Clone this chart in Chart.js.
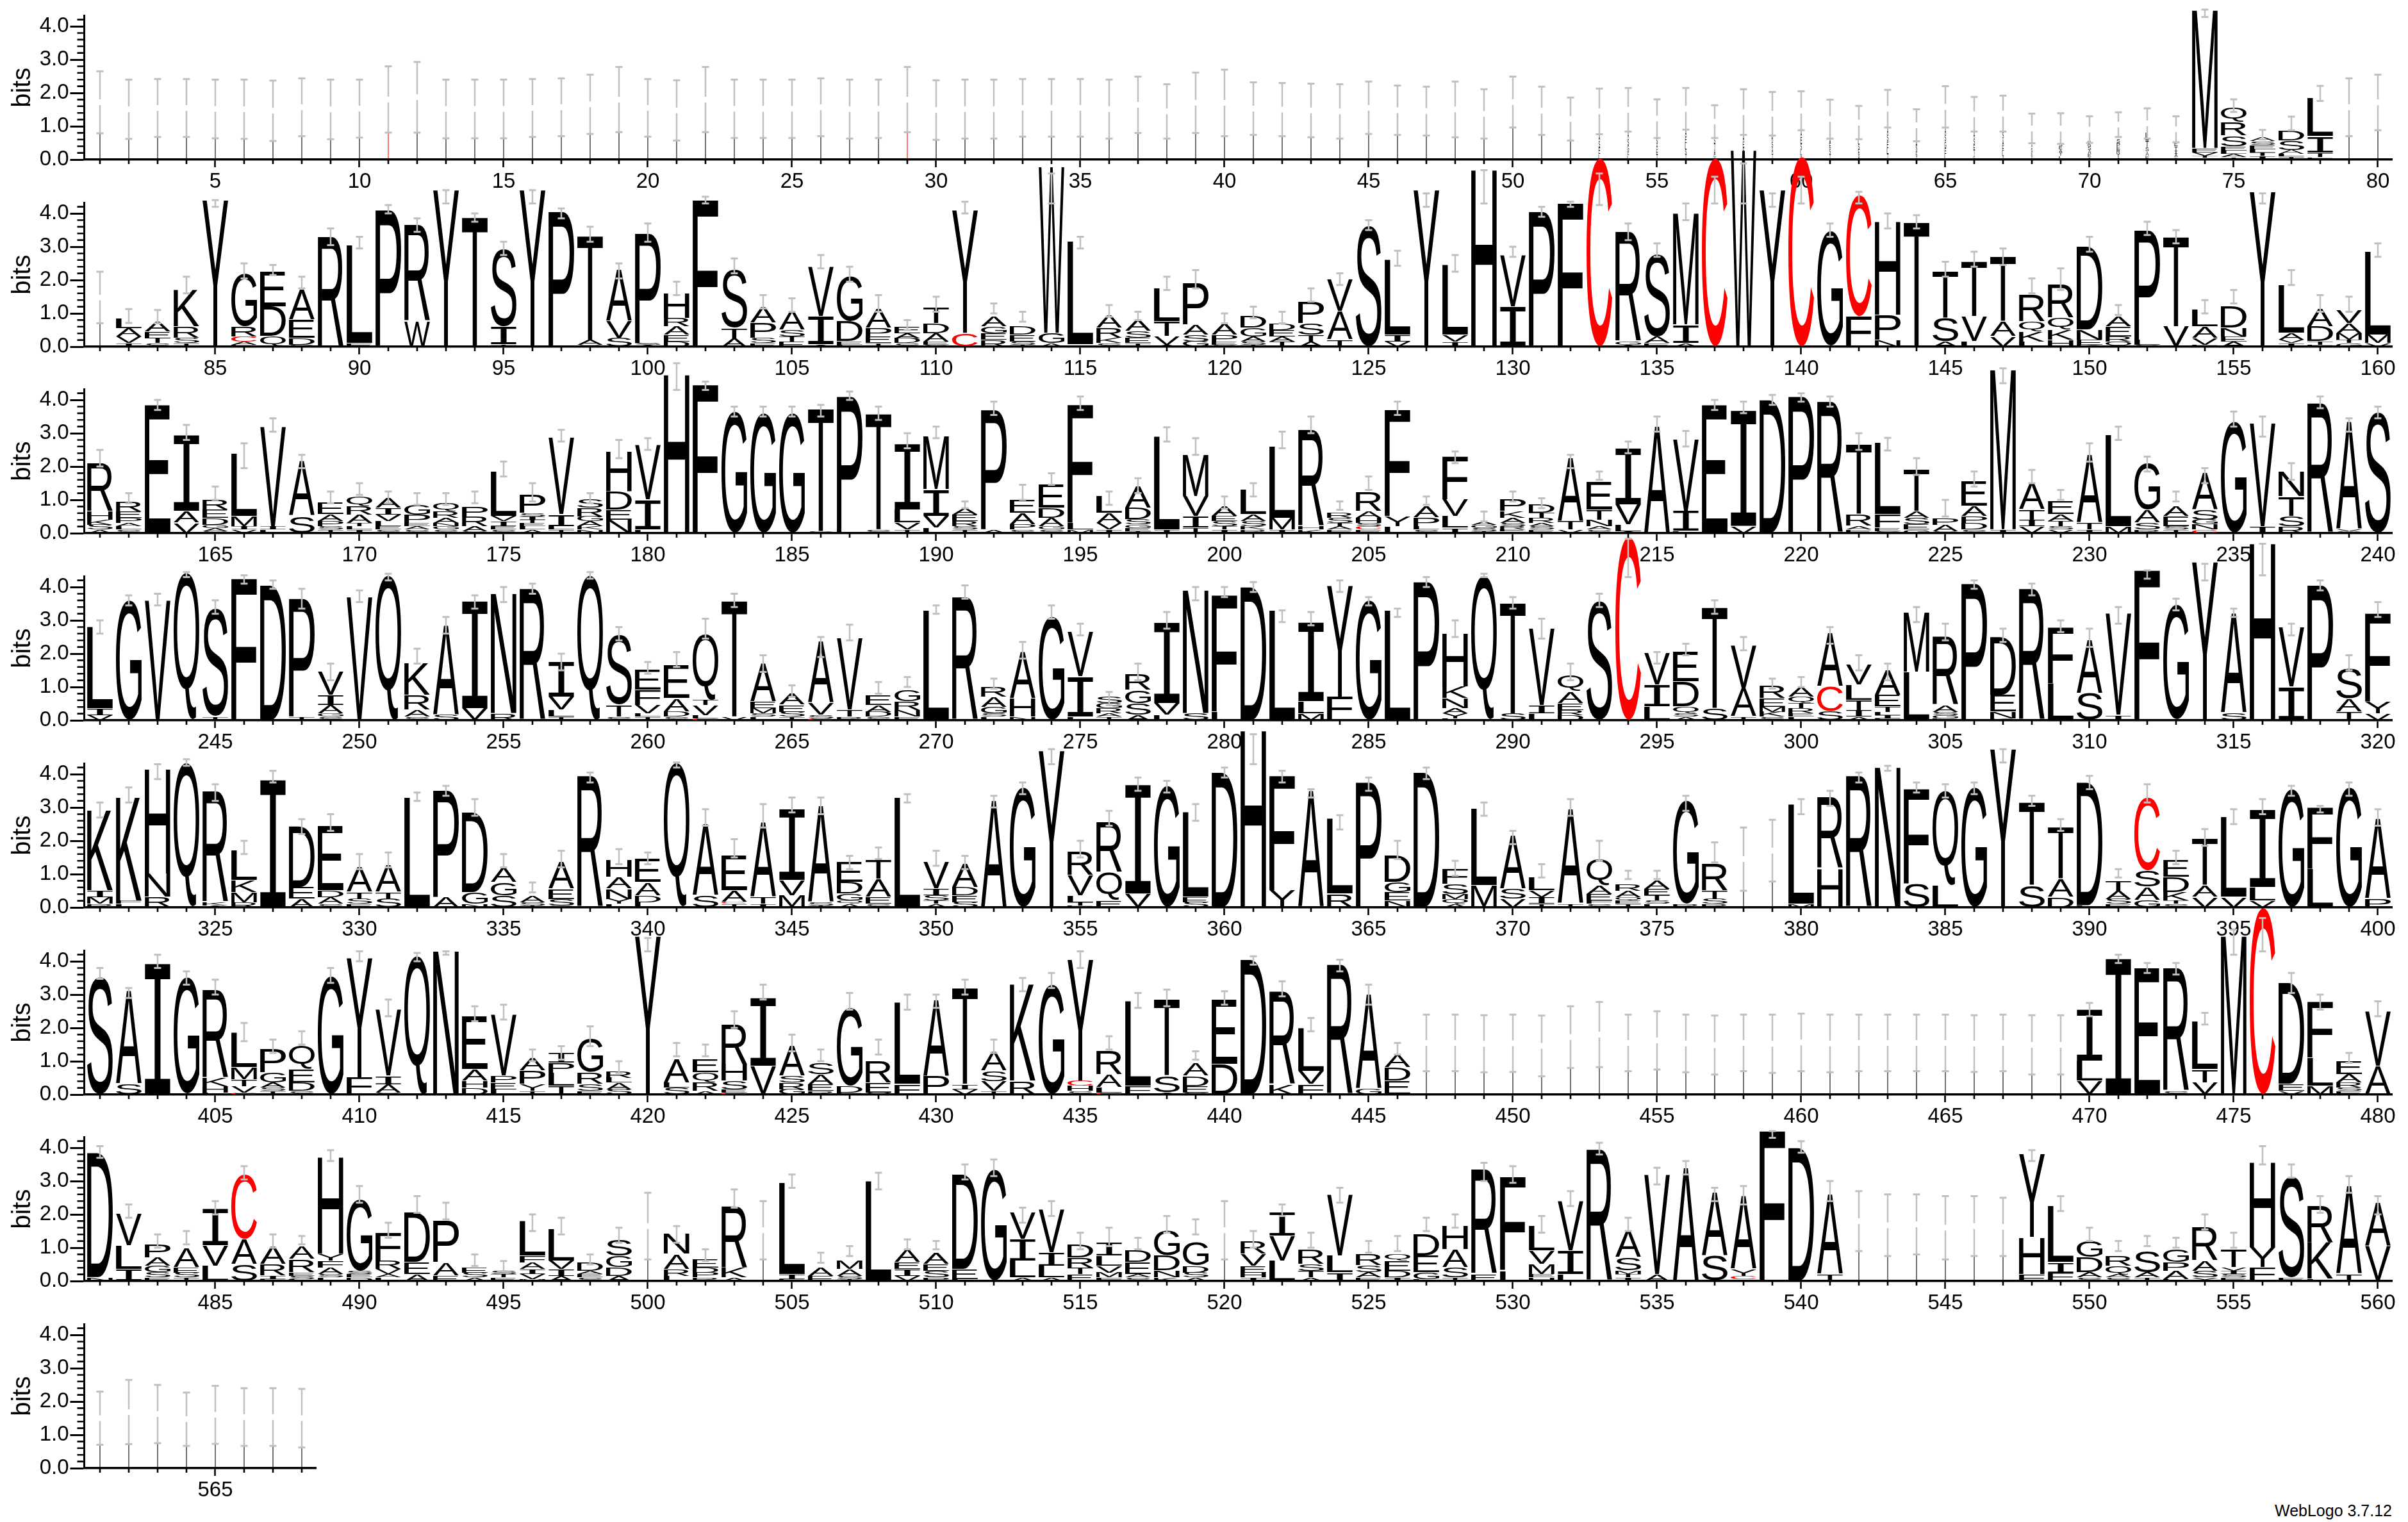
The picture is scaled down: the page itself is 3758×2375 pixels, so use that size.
<!DOCTYPE html>
<html>
<head>
<meta charset="utf-8">
<title>WebLogo</title>
<script src="https://cdn.jsdelivr.net/npm/chart.js@4/dist/chart.umd.min.js"></script>
<style>
html,body{margin:0;padding:0;background:#fff;overflow:hidden;}
#wrap{position:relative;width:3758px;height:2375px;overflow:hidden;}
canvas{position:absolute;left:0;}
#foot{position:absolute;left:3550px;top:2343px;font:25px "Liberation Sans",Arial,sans-serif;color:#000;white-space:nowrap;}
</style>
</head>
<body>
<div id="wrap"><div id="foot">WebLogo 3.7.12</div></div>
<script>
// each stack is listed top letter first, letter + height in bits
// | thin black stem, ! thin red stem, * and + narrow letters
var rowFirst = [1, 81, 161, 241, 321, 401, 481, 561];
var yTickValues = [0, 1, 2, 3, 4];

var rowOneStacks = ["|","|","|","|","|","|","|","|","|","|",
"!","|","|","|","|","|","|","|","|","|",
"|","|","|","|","|","|","|","|","!","|",
"|","|","|","|","|","|","|","|","|","|",
"|","|","|","|","|","|","|","|","|","|",
"|","|","*A.2 *S.2 *E.2 *L.16","*A.22 *S.2 *G.16 *E.14 *L.12","*S.17 *A.17 *E.16 *T.15","*A.2 *E.2 *L.2 *S.15 *T.15","*S.18 *T.17 *A.15 *G.15","*A.2 *E.18 *S.18 *L.18","*R.18 *S.18 *A.18 *T.18","*A.2 *E.2 *S.2 *L.15 *T.13",
"*A.15 *E.15 *S.18 *T.15","*L.16 *S.15 *E.15 *A.15","*A.22 *S.2 *E.2 *L.17 *T.17","*A.15 *S.15 *E.13 *T.12","*A.22 *S.2 *G.2 *E.17 *L.17","*A.2 *S.2 *E.16 *T.16 *G.12","*S.22 *A.2 *E.16 *L.16 *T.1","*A.14 *S.13 *E.11 *T.11","+S.1 +E.1 +A.1 +T.1 +L.1","+K.15 +S.12 +A.12 +E.1 +T.06",
"+S.14 +P.12 +E.1 +R.12 +T.1 +A.06","+L.22 +T.2 +S.12 +A.14 +E.1","+E.12 +T.14 +I.1 +A.1 +S.06","M4.15 E.12 V.1 T.06 I.05","Q.42 R.42 S.33 E.12 L.1 A.1 T.06","A.14 S.1 E.14 L.1 T.1 I.1","D.3 S.28 A.12 L.08 T.08","L1.15 I.5 T.14 E.06","|","|"];
var rowOneLow = [.79,.62,.68,.68,.64,.62,.56,.7,.61,.66,.81,.81,.64,.64,.64,.68,.7,.77,.82,.69,
.57,.82,.65,.65,.65,.7,.63,.65,.82,.59,.63,.63,.69,.69,.69,.63,.8,.63,.8,.7,
.74,.7,.67,.63,.77,.74,.72,.67,.63,.96,.74,.57,.76,.84,.65,.9,.65,.74,.72,.88,
.63,.61,.96,.55,.96,.84,.84,.49,.47,.5,.68,.63,.52,4.28,1.43,.6,.88,1.76,.7,.88];
var rowOneHigh = [2.65,2.4,2.42,2.42,2.4,2.4,2.37,2.44,2.4,2.4,2.8,2.93,2.4,2.4,2.4,2.42,2.44,2.55,2.78,2.42,
2.38,2.78,2.4,2.4,2.4,2.44,2.4,2.4,2.78,2.38,2.4,2.4,2.42,2.42,2.42,2.4,2.49,2.26,2.61,2.7,
2.32,2.3,2.28,2.26,2.34,2.22,2.19,2.34,2.11,2.49,2.19,1.86,2.13,2.15,1.81,2.15,1.63,2.11,2.03,2.05,
1.8,1.61,2.09,1.51,2.2,1.88,1.92,1.38,1.39,1.3,1.42,1.54,1.3,4.5,1.81,.89,1.29,2.21,2.44,2.55];

var rowTwoStacks = ["|","L.3 A.25 V.2 I.1","A.3 E.2 T.15 S.1","K1.1 R.35 S.15 T.1","Y4.4","G1.6 R.3 C.15 A.1 E.05","E1.05 D.9 Q.3","A.9 E.55 D.2 S.05","R3.3","L2.95 E.1",
"P4.1","R2.9 W.75","Y4.7","T3.9","S2.35 I.55 T.05","Y4.7","P4.05","T3.15 A.15 G.05","A1.55 V.5 S.25","P3.3 S.05 A.05",
"H.75 R.25 A.25 E.2 D.15","F4.4","S1.75 T.3 A.25","A.5 P.45 S.15 E.1","A.6 S.2 T.15 E.15","V1.5 I.85 A.05","G1.35 D.6 E.1 L.05","A.6 P.25 E.2 T.1","E.2 A.15 D.15 S.1","T.5 D.3 A.25 E.1 S.05",
"Y3.7 C.4","A.3 G.2 E.2 R.2","D.25 E.2 S.1 T.05","W5.0 G.3 A.1","L3.1 I.05","A.4 R.3 K.15 S.1","A.35 S.2 E.15 T.1","L1.0 T.45 V.25 A.05","P1.25 A.3 S.2 G.15","A.35 P.2 E.1 S.05",
"D.35 G.25 A.15 S.1 T.05","D.2 E.2 A.15 T.15","P.65 S.35 T.2 A.15","V.95 A.85 T.2","S3.65","L2.25 I.2 V.15","Y4.7","L2.1 V.2 I.15","H5.3","V1.55 I1.2",
"P4.05","F4.3","C5.65","R3.3 G.1 A.05","S2.5 A.2 E.1","M3.35 I.55 A.1","C5.65","W5.9","Y4.7","C5.7",
"G3.45","C3.65 F.9","H2.8 P.75 N.2","T3.75","T1.4 S.7 A.15","T1.65 V.75 L.15","T1.95 A.45 V.3","R.8 Q.3 K.3 L.15","R1.0 Q.35 K.3 H.2","D2.5 N.3 E.15 K.05",
"A.3 E.3 R.15 Q.15","P3.3 L.15 S.05","T2.7 V.6","L.5 A.35 V.2 E.05","D.65 N.25 E.15 A.15","Y4.65","L1.45 A.2 V.1 I.1","A.55 D.45 T.1 E.05","V.4 A.3 M.2 T.1 G.1","L2.5 M.25 V.1"];
var rowTwoLow = [.7,.71,.7,1.6,4.2,2.05,2.15,1.75,3.05,2.95,
4.0,3.45,4.3,3.75,2.75,4.3,3.85,3.15,2.05,3.15,
1.55,4.3,2.2,1.15,1.05,2.35,1.95,1.05,.5,1.05,
4.0,1.0,.75,4.3,2.95,.9,.8,1.7,1.75,.7,
.85,.7,1.35,1.85,3.5,2.43,4.2,2.25,4.3,2.7,
3.9,4.2,4.25,3.2,2.7,3.8,4.3,4.3,4.2,4.3,
3.3,4.3,3.55,3.55,2.1,2.4,2.45,1.6,1.7,2.85,
.95,3.35,3.1,1.0,1.3,4.3,1.85,1.05,1.05,2.7];
var rowTwoHigh = [2.25,1.13,1.1,2.1,4.4,2.5,2.45,2.1,3.55,3.3,
4.25,3.85,4.7,4.0,3.15,4.7,4.15,3.6,2.5,3.7,
1.95,4.5,2.65,1.55,1.45,2.75,2.4,1.55,.8,1.5,
4.35,1.3,1.05,5.2,3.3,1.25,1.05,2.1,2.3,1.0,
1.2,1.05,1.75,2.2,3.8,2.88,4.6,2.75,5.3,3.0,
4.2,4.35,5.2,3.7,3.1,4.3,5.1,5.5,4.6,5.1,
3.7,4.65,4.0,3.95,2.55,2.85,2.95,2.05,2.35,3.3,
1.25,3.75,3.5,1.4,1.7,4.6,2.3,1.55,1.5,3.1];

var rowThreeStacks = ["R1.45 H.25 K.15 S.15 A.1","R.3 E.2 P.15 A.1 L.1 S.1","E3.85","I2.3 A.35 V.3","R.3 E.25 D.2 G.1 A.1 S.05","L1.9 M.3 I.1 V.1","V3.0 I.1 L.1","A1.65 S.5","E.35 A.2 P.15 S.1 T.1","Q.3 R.25 A.25 T.1 L.1 I.1",
"A.3 I.2 V.2 L.15 E.1 S.1","G.3 P.25 E.1 A.1 S.1","Q.25 R.2 A.15 N.1 G.1 S.1","P.3 R.3 A.15 S.05","L1.35 V.15 I.15 E.1 S.1","P.55 S.1 I.1 T.1 E.1 L.1 A.1","V2.3 I.35 L.1 T.1","S.25 R.25 G.15 A.15 K.1 N.1","H1.2 D.55 E.3 N.4","V1.65 I.9 L.1",
"H4.75","F4.45","G3.65","G3.6","G3.6","T3.7 S.05","P4.1","T3.5 S.1","I2.0 L.4 V.2 T.1","M1.6 I.8 V.35 L.15",
"A.2 E.2 R.15 S.1 T.1","P3.6 A.1","E.4 A.35 P.15 S.1","E.7 D.3 A.25 G.1 S.1","F3.55 L.2 M.1","L.5 A.3 V.2 I.1","A.65 D.35 S.15 G.1 E.1 T.05","L2.8 I.1","M1.25 V.6 I.35 T.15","A.3 E.15 S.15 T.1 I.1",
"L.75 A.2 S.15 K.1 R.1","L2.15 M.35 I.1","R2.9 H.1 K.1","R.15 S.15 T.1 A.1 E.1","R.6 A.2 H.15 S.1 C.1 E.1","F3.2 Y.3 L.2","A.35 P.25 L.1 S.1","F1.3 V.5 L.35 I.15","A.1 G.1 S.1 T.05","P.35 K.2 A.15 S.1 R.1 E.05 I.05",
"D.25 T.15 R.15 A.1 S.1 E.1","A1.9 T.25 V.1","E.85 T.3 N.2 A.1 S.1","I1.7 V.6 L.2 A.05","A3.2","V2.15 I.6 L.05","E3.85","I3.5 V.2","D4.0","P4.1",
"R3.95","T2.1 R.35 A.1 E.1","L2.15 F.4 E.1 S.05","T1.25 A.2 S.2 E.15 G.1","P.2 A.2 S.05","E.75 A.3 P.2 D.2 S.1","M4.8 I.1","A.8 T.3 I.2 V.2","E.4 A.2 T.15 S.1 V.1","A2.05 T.2 I.1",
"L2.75 M.2","G1.4 A.4 S.2 R.1","A.3 E.3 S.1 T.1","A1.1 S.3 G.15 N.15 C.1","G3.35","V3.1 I.2","N.75 T.6 S.3 R.2","R3.9","A3.25 V.05 S.05","S3.65"];
var rowThreeLow = [2.0,.9,3.7,2.8,1.0,1.95,3.05,1.95,.9,1.15,
.9,.85,.85,.9,1.7,.95,2.75,.9,2.25,2.5,
4.3,4.3,3.5,3.5,3.5,3.5,4.0,3.4,2.55,2.85,
.75,3.55,1.0,1.45,3.7,.85,1.2,2.75,2.35,.73,
1.1,2.55,3.0,.7,1.3,3.55,.85,2.1,.35,.95,
.75,1.95,1.6,2.4,3.05,2.6,3.7,3.6,3.85,3.95,
3.8,2.5,2.48,1.75,.5,1.4,4.5,1.5,1.0,2.15,
2.8,1.85,.95,1.5,3.2,2.9,1.6,3.75,3.05,3.45];
var rowThreeHigh = [2.5,1.2,4.0,3.25,1.4,2.7,3.45,2.35,1.25,1.5,
1.25,1.2,1.2,1.25,2.15,1.5,3.1,1.2,2.8,2.85,
5.1,4.55,3.8,3.8,3.8,3.85,4.25,3.8,3.0,3.2,
.95,3.95,1.45,1.8,4.1,1.25,1.65,3.18,2.85,1.1,
1.5,3.05,3.5,.95,1.7,3.95,1.1,2.45,.65,1.25,
1.05,2.35,1.85,2.75,3.5,3.07,4.0,3.95,4.15,4.2,
4.1,3.0,2.86,2.25,1.0,1.85,4.95,1.9,1.3,2.7,
3.2,2.3,1.25,1.95,3.65,3.5,2.1,4.1,3.45,3.8];

var rowFourStacks = ["L2.45 I.2 V.15","G3.6","V3.6","Q4.4","S3.25 T.1","F4.25","D4.05","P3.55 T.1","V.7 I.3 A.25 G.1 S.1","V3.7",
"Q4.35","K.95 R.45 A.2 S.1","A2.7 S.15","I3.25 V.35","N3.6 R.2","R3.95","I1.05 V.4 L.2 T.1","Q4.35","S2.1 T.35 S.1","E.6 F.45 V.25 L.1 T.1",
"E1.0 A.4 D.15 S.1","Q2.0 T.15 V.3 L.1 C.05","T3.5 V.1","A1.15 E.2 M.15 S.1 L.1","A.35 E.2 S.15 T.1","A1.85 V.35 S.1 C.05","V2.15 T.2 R.1","E.3 A.2 D.15 S.1","G.35 R.25 N.2 E.1","L3.3",
"R3.7","R.3 A.3 G.2 S.1 L.1","A1.4 H.55 N.1","G3.1","V1.35 I1.2 L.1","S.2 G.15 R.15 A.1 T.1","R.5 G.4 S.35 A.15","I2.45 V.35 L.15","N3.7 S.2","F3.5 L.25",
"D4.0","L3.3","I2.4 L.35 M.2","Y3.35 F.7","G3.6","L3.3","P4.15","H1.6 K.35 N.3 A.15 Y.15 L.05","Q4.3","T3.35 S.2",
"V2.3 I.25 L.2","Q.5 A.35 E.2 R.15 D.15","S3.6","C5.5","V.95 I.65 L.4","E.9 D.75 Q.2 S.1 A.1","T3.05 S.35","V1.3 A.85 T.1","R.4 E.25 M.15 K.15 S.1","A.3 Q.2 T.15 R.15 E.1 L.1",
"A1.6 C.75 S.25","V.6 L.45 T.3 I.2 A.1","A.75 E.35 T.15 L.1 I.1 F.05","M1.8 L1.45","R2.05 A.2 S.1 G.1 E.05","P4.1","D1.75 E.5 N.2 K.05","R3.95","F1.7 L1.1","A1.6 S.8",
"V3.05 I.15","F4.5","G3.45","Y4.75","A3.0 S.2","H5.3","V1.8 I1.0","P4.05","S.9 A.4 T.25","F2.65 Y.35 V.2"];
var rowFourLow = [2.6,3.45,3.45,4.3,3.2,4.1,3.95,3.35,1.2,3.55,
4.2,1.7,2.6,3.35,3.55,3.8,1.5,4.25,2.4,1.4,
1.6,2.45,3.4,1.45,.7,1.9,2.4,.8,1.0,3.2,
3.65,.95,1.85,3.05,2.55,.45,1.2,2.75,3.6,3.7,
3.85,2.95,2.85,3.85,3.45,3.1,4.0,2.5,4.3,3.35,
2.45,1.2,3.4,4.3,1.7,1.95,3.2,2.1,.95,1.0,
2.3,1.5,1.2,2.95,2.4,3.95,2.35,3.75,2.65,2.2,
2.9,4.25,3.3,4.2,3.1,4.35,2.55,3.9,1.5,3.1];
var rowFourHigh = [3.0,3.75,3.8,4.45,3.6,4.35,4.2,3.95,1.7,3.9,
4.4,2.15,3.1,3.75,4.0,4.1,2.0,4.45,2.8,1.75,
2.05,3.05,3.8,1.95,1.05,2.5,2.87,1.15,1.3,3.45,
4.05,1.25,2.35,3.45,2.9,.85,1.7,3.25,4.0,4.0,
4.15,3.3,3.25,4.2,3.7,3.35,4.3,3.0,4.4,3.7,
3.05,1.7,3.8,5.45,2.05,2.3,3.6,2.5,1.25,1.3,
2.8,1.95,1.7,3.4,2.9,4.2,2.75,4.1,3.0,2.75,
3.4,4.5,3.65,4.7,3.35,5.3,2.9,4.2,1.95,3.55];

var rowFiveStacks = ["K2.4 I.2 M.2 R.1","K3.1 F.1 L.1","H3.15 N.7 R.3","Q4.3","R3.35 K.1 A.05","L.9 K.35 M.3 R.15","I3.85","D1.85 E.35 A.25","E1.95 D.2 A.2 S.1","A.75 T.2 S.15 E.1",
"A.8 T.2 S.25","L3.3","P3.2 A.3","D2.4 G.35 N.1","A.45 G.4 S.35","A.2 S.1 T.05","A.8 E.3 S.2 G.05","R3.95","H.5 A.35 N.3 Y.15 L.1","E.7 A.4 D.2 L.15",
"Q4.3","A2.15 S.35","E1.05 A.35 C.05 T.1","A2.25 T.2 I.1","I2.15 V.45 M.35","A2.9 S.1 T.05","E.6 D.35 G.2 Q.1 A.1","T.6 A.55 E.2 S.1","L3.3","V.8 I.2 S.15 T.1 A.1",
"A.7 D.25 E.2 S.15","A3.2","G3.6","Y4.7","R.7 V.6 L.2 T.1 E.05","R1.5 Q.85 E.2","I3.3 V.4","G3.65","L2.55 E.15 S.15","D4.05",
"H5.3","F3.45 Y.5","A3.5","L2.25 R.4","P3.75","D.8 G.3 E.25 N.2","D4.05","F.45 S.3 M.15 Q.15 A.1","L2.3 M.65","A1.6 S.3 V.25",
"L.4 V.2 I.2 T.1","A2.85 T.1","Q.8 A.25 E.2 F.1 S.1","R.2 A.2 Q.1 E.1 T.1","A.25 E.2 T.15 S.1 L.1","G3.1 R.1","R.8 T.25 S.15 R.1","|","|","L3.0 M.1",
"R2.15 H1.15","R3.95","N4.2","F2.85 S.7","Q2.85 L.65","G3.6","Y4.75","T2.5 S.65","T1.55 A.55 D.3","D3.7 L.05",
"T.3 A.25 S.15 E.1","C2.2 S.5 A.4 G.2","E.5 D.45 K.25 T.1 S.1","T1.4 A.35 V.3","L2.4 V.3","I2.35 L.4 V.2","G3.55","F1.85 L1.15","G3.6","A2.4 P.25"];
var rowFiveLow = [2.7,3.15,3.85,4.25,3.2,1.6,3.75,2.2,2.3,1.15,
1.2,3.2,3.35,2.75,1.2,.45,1.2,3.75,1.3,1.3,
4.2,2.45,1.5,2.4,2.85,2.8,1.15,1.45,3.15,1.25,
1.15,3.0,3.4,4.3,1.5,2.45,3.5,3.45,2.6,3.9,
4.3,3.75,3.3,2.34,3.5,1.45,3.85,.95,2.75,1.9,
.9,2.75,1.4,.85,.85,2.9,1.35,.5,.78,2.8,
3.05,3.75,4.1,3.45,3.3,3.4,4.35,3.05,2.3,3.55,
.9,3.15,1.3,1.85,2.5,2.8,3.35,2.85,3.35,2.45];
var rowFiveHigh = [3.15,3.6,4.3,4.45,3.7,2.0,4.1,2.65,2.8,1.6,
1.65,3.45,3.65,3.25,1.6,.75,1.7,4.05,1.75,1.65,
4.35,2.95,2.05,3.1,3.3,3.3,1.55,1.8,3.4,1.7,
1.55,3.35,3.75,4.75,2.0,2.9,3.9,3.8,3.1,4.2,
5.2,4.1,3.55,2.77,3.9,2.0,4.2,1.4,3.15,2.3,
1.3,3.25,2.0,1.1,1.1,3.35,1.95,2.4,2.63,3.25,
3.5,4.05,4.25,3.75,3.7,3.75,4.75,3.35,2.65,3.95,
1.15,3.7,1.7,2.35,2.95,3.25,3.65,3.05,3.75,2.95];

var rowSixStacks = ["S3.55","A2.8 S.3","I3.95","G3.5","R2.65 K.25 H.2 L.05","L1.05 M.35 T.2 V.2 C.05","P.7 G.3 A.15 S.1 T.1","Q.7 E.4 D.25 S.1","G3.55","Y3.6 F.5",
"V2.0 I.25 A.25 S.05","Q4.15","N4.3","E1.6 A.35 H.2 D.2","V1.85 P.2 E.2 L.15","A.4 P.4 Y.2 T.1","I.3 P.3 L.4 T.25","G1.0 R.35 S.2 E.1","R.2 L.15 A.2 S.15","Y4.75",
"A.7 L.15 S.2","E.4 Q.3 R.25 A.1","R1.2 H.5 S.25 E.1 C.05","I2.05 V.85","A.9 S.2 R.2 G.15","S.35 A.3 E.2 R.1","G2.35 D.2 E.05","R.65 E.3 V.05","L2.45 F.3","A2.3 P.55",
"T2.9 I.15 V.15","A.6 S.3 V.3 T.1","K2.9 R.4","G3.3","Y3.65 C.15 H.15 S.1","R.7 A.4 L.15 C.05","L2.55 F.25","T2.3 S.5 A.05","A.4 D.3 E.2 S.05","E1.95 D.9",
"D4.05","R2.8 K.3","L1.3 V.4 F.3","R3.9","A2.85 G.15","A.4 D.4 E.4","|","|","|","|",
"|","|","|","|","|","|","|","|","|","|",
"|","|","|","|","|","|","|","|","|","I1.55 L.6 V.4",
"I4.1","E3.8","R3.7 S.1","L1.45 T.4 V.35","M4.75","C5.6","D3.05 E.2 V.1","F1.7 L.85 M.25","E.4 A.25 R.15 S.1 E.1","V1.65 A.85"];
var rowSixLow = [3.47,2.9,3.8,3.3,3.0,1.6,1.25,1.5,3.35,4.0,
2.35,4.0,4.2,2.2,2.25,1.0,1.05,1.45,.65,4.3,
1.15,1.15,2.0,2.85,1.3,1.0,2.55,1.2,2.55,2.6,
3.0,1.25,3.1,3.2,3.8,1.35,2.6,2.65,1.05,2.7,
3.9,2.95,1.9,3.7,2.7,1.2,.7,.7,.67,.68,
.55,.8,.82,.7,.75,.67,.6,.7,.65,.7,
.67,.7,.7,.7,.7,.68,.7,.6,.6,2.35,
3.95,3.65,3.6,2.1,4.2,4.3,3.05,2.55,.95,2.35];
var rowSixHigh = [3.8,3.2,4.2,3.7,3.45,2.15,1.65,1.9,3.8,4.3,
2.85,4.25,4.3,2.65,2.7,1.35,1.45,2.05,1.0,4.7,
1.55,1.5,2.5,3.3,1.8,1.35,3.05,1.65,3.0,3.0,
3.45,1.65,3.5,3.65,4.3,1.75,3.05,3.15,1.3,3.1,
4.15,3.4,2.3,4.05,3.3,1.55,2.4,2.4,2.38,2.4,
2.37,2.65,2.78,2.4,2.5,2.4,2.37,2.4,2.4,2.43,
2.4,2.4,2.4,2.4,2.4,2.38,2.4,2.38,2.38,2.75,
4.2,3.95,3.95,2.45,4.95,5.3,3.65,3.0,1.25,2.8];

var rowSevenStacks = ["D3.75 N.1","V.95 L.7 I.35","P.4 A.25 G.2 S.15 E.1","A.6 E.15 S.15 T.1","I1.1 V.6 L.45","C1.95 A.75 S.5","A.55 R.35 I.1 E.05","A.4 R.4 E.1 S.1 L.05","H2.9 Y.2 F.2 A.2 S.1 L.1","G2.15 S.1 E.1 D.1",
"F.85 R.25 V.15 A.1 L.1","D1.5 E.35 A.2","P1.25 A.4 E.15","E.15 S.15 A.1","S.1 T.1 E.1","L1.05 F.2 A.2 I.15 V.15 M.05","L.95 V.25 I.2 A.15","D.25 A.1 E.1 S.1","S.5 G.35 D.25 A.15","|",
"N.6 A.45 R.2 L.15","E.25 D.15 P.15 R.1","R1.85 K.3 A.1","|","L2.75 I.15 E.05","A.25 E.15","M.25 A.2 S.1 T.05","L3.0","A.4 E.2 I.2 V.15","A.35 E.2 S.2 P.1",
"D2.85 E.3 L.05","G3.35","V.8 I.65 L.5 A.1","V1.3 I.4 L.35 A.1","D.4 R.3 T.2 E.2","I.4 L.3 V.2 M.15 F.1","D.35 E.35 A.1 S.1","G.75 D.45 N.2 K.1","G.7 D.2 S.15 A.1","|",
"R.4 V.35 E.2 H.15 I.1","I.7 V.75 L.6","R.45 S.2 T.2 A.1","V1.85 L.5 I.25","R.35 S.2 A.15 E.1","Q.2 E.3 D.2 I.1","D.65 E.5 G.2 L.05","H.7 A.55 S.3 T.1","R3.15 E.2","F2.8 L.3",
"L.75 V.4 M.3 E.1 H.1","V1.5 I.7 L.2","R3.95","A.8 S.4 M.1 T.1 I.1","V3.0 A.2","A3.4","A1.9 S.75","A2.2 Y.2 C.1 I.05","F4.5","D4.0",
"A2.4 T.2","|","|","|","|","|","|","Y2.5 H1.1 F.2","L1.7 I.3 F.25","G.5 D.45 A.15 S.1",
"R.3 Q.25 A.1 S.1","S.65 A.15 T.1","G.4 P.25 A.25 L.05","R1.0 A.3 S.2 Y.1","T.55 V.1 I.1 S.1 E.1","H2.55 Y.6 F.4","S3.05 E.1","R1.1 K1.1 L.05","A2.65 T.2","A1.3 V1.05"];
var rowSevenLow = [3.7,1.9,1.0,1.1,2.0,3.05,1.0,1.1,3.6,2.35,
1.3,2.05,1.85,.45,.3,1.5,1.4,.5,1.15,.65,
1.15,.6,2.2,.65,2.8,.55,.75,2.75,.95,.95,
3.05,3.15,1.75,1.95,.95,1.05,.95,1.45,1.4,.65,
1.0,1.95,1.0,2.35,.85,.9,1.5,1.6,3.0,2.95,
1.45,2.25,3.8,1.5,2.9,3.2,2.4,2.3,4.3,3.85,
2.4,.9,.75,.8,.65,.75,.75,3.6,2.1,1.2,
.9,1.05,1.0,1.55,1.0,3.5,3.1,2.05,2.65,2.0];
var rowSevenHigh = [4.05,2.3,1.4,1.5,2.4,3.45,1.4,1.35,3.93,2.85,
1.75,2.55,2.35,.8,.6,2.0,1.9,.8,1.6,2.65,
1.65,.95,2.75,2.4,3.2,.85,1.05,3.25,1.25,1.2,
3.5,3.65,2.2,2.4,1.45,1.6,1.3,1.95,1.85,2.4,
1.5,2.3,1.45,2.8,1.2,1.35,1.9,2.0,3.55,3.45,
1.95,2.7,4.15,1.9,3.4,3.6,2.8,2.85,4.5,4.2,
3.0,2.7,2.6,2.6,2.55,2.55,2.5,3.93,2.55,1.6,
1.2,1.35,1.3,2.0,1.45,4.05,3.5,2.55,3.15,2.55];

var rowEightStacks = ["|","|","|","|","|","|","|","|"];
var rowEightLow = [.7,.72,.75,.67,.73,.67,.67,.62];
var rowEightHigh = [2.3,2.65,2.5,2.27,2.47,2.4,2.4,2.38];

var allStacks = [rowOneStacks, rowTwoStacks, rowThreeStacks, rowFourStacks, rowFiveStacks, rowSixStacks, rowSevenStacks, rowEightStacks];
var allLow = [rowOneLow, rowTwoLow, rowThreeLow, rowFourLow, rowFiveLow, rowSixLow, rowSevenLow, rowEightLow];
var allHigh = [rowOneHigh, rowTwoHigh, rowThreeHigh, rowFourHigh, rowFiveHigh, rowSixHigh, rowSevenHigh, rowEightHigh];

var glyphCache = {};
var measureCtx = document.createElement('canvas').getContext('2d');
function glyphFont(ch) {
	return ch === 'I' ? '200px "Liberation Mono"' : '200px "Liberation Sans"';
}
function glyphBox(ch) {
	if (!glyphCache[ch]) {
		measureCtx.font = glyphFont(ch);
		var m = measureCtx.measureText(ch);
		glyphCache[ch] = { l: m.actualBoundingBoxLeft, r: m.actualBoundingBoxRight, a: m.actualBoundingBoxAscent, d: m.actualBoundingBoxDescent };
	}
	return glyphCache[ch];
}
// stretch one letter so its ink fills the given box
function drawLetter(ctx, ch, left, top, w, h) {
	var b = glyphBox(ch);
	ctx.save();
	ctx.translate(left, top);
	ctx.scale(w / (b.l + b.r), h / (b.a + b.d));
	ctx.font = glyphFont(ch);
	ctx.textBaseline = 'alphabetic';
	ctx.fillStyle = ch === 'C' ? '#ff0000' : '#000000';
	ctx.fillText(ch, b.l, b.a);
	ctx.restore();
}

var logoPlugin = {
	id: 'logo',
	afterDatasetsDraw: function (chart) {
		var ctx = chart.ctx, xs = chart.scales.x, ys = chart.scales.y;
		var o = chart.options.plugins.logo;
		var base = ys.getPixelForValue(0);
		o.stacks.forEach(function (stack, i) {
			var cx = xs.getPixelForValue(o.first + i);
			var low = o.low[i], high = o.high[i];
			var tokens = stack.split(' ');
			var thin = false;
			if (tokens[0] === '|' || tokens[0] === '!') {
				thin = true;
				ctx.strokeStyle = tokens[0] === '!' ? '#ff0000' : '#000000';
				ctx.lineWidth = 1.1;
				ctx.beginPath();
				ctx.moveTo(cx, base - 2);
				ctx.lineTo(cx, ys.getPixelForValue(low));
				ctx.stroke();
			} else {
				var sum = 0;
				for (var t = tokens.length - 1; t >= 0; t--) {
					var tok = tokens[t], w = 40;
					if (tok[0] === '*') { w = 2.5; tok = tok.slice(1); thin = true; }
					else if (tok[0] === '+') { w = 5; tok = tok.slice(1); thin = true; }
					var val = parseFloat(tok.slice(1));
					var yBottom = ys.getPixelForValue(sum);
					var yTop = ys.getPixelForValue(sum + val);
					drawLetter(ctx, tok[0], cx - w / 2, yTop, w, Math.max(yBottom - yTop - (val > .3 ? 1 : 0.4), .5));
					sum += val;
				}
			}
			// error bar, split in the middle where the column is nearly empty
			var yl = ys.getPixelForValue(low), yh = ys.getPixelForValue(high);
			ctx.strokeStyle = '#c0c0c0';
			ctx.lineWidth = 2.5;
			ctx.beginPath();
			if (thin) {
				var mid = (yl + yh) / 2;
				ctx.moveTo(cx, yh); ctx.lineTo(cx, mid - 4.5);
				ctx.moveTo(cx, mid + 4.5); ctx.lineTo(cx, yl);
			} else {
				ctx.moveTo(cx, yh); ctx.lineTo(cx, yl);
			}
			ctx.stroke();
			ctx.lineWidth = 3;
			ctx.beginPath();
			ctx.moveTo(cx - 5.5, yh); ctx.lineTo(cx + 5.5, yh);
			ctx.moveTo(cx - 5.5, yl); ctx.lineTo(cx + 5.5, yl);
			ctx.stroke();
		});
		// minor ticks
		ctx.strokeStyle = '#000';
		ctx.lineWidth = 2.6;
		ctx.beginPath();
		for (var v = 0.2; v < 4.32; v += 0.2) {
			if (Math.abs(v - Math.round(v)) < 0.01) continue;
			var py = ys.getPixelForValue(v);
			ctx.moveTo(xs.left - 11, py); ctx.lineTo(xs.left, py);
		}
		for (var p = 0; p < o.stacks.length; p++) {
			var pos = o.first + p;
			if (pos % 5 === 0) continue;
			var px = xs.getPixelForValue(pos);
			ctx.moveTo(px, base); ctx.lineTo(px, base + 7);
		}
		ctx.stroke();
	}
};

var wrap = document.getElementById('wrap');
rowFirst.forEach(function (first, r) {
	var stacks = allStacks[r];
	var canvas = document.createElement('canvas');
	canvas.width = 3758;
	canvas.height = 400;
	canvas.style.top = (249 + r * 291.7 - 330) + 'px';
	wrap.appendChild(canvas);
	var rightEdge = 156 + 45 * (stacks.length - 0.5);
	new Chart(canvas, {
		type: 'scatter',
		plugins: [logoPlugin],
		data: {
			datasets: [{
				data: stacks.map(function (s, i) {
					return { x: first + i, y: allHigh[r][i] };
				}),
				pointRadius: 0,
				showLine: false
			}]
		},
		options: {
			responsive: false,
			animation: false,
			devicePixelRatio: 1,
			layout: { padding: { top: 105.4, right: 3758 - rightEdge, left: 0, bottom: 0 } },
			plugins: {
				legend: { display: false },
				tooltip: { enabled: false },
				logo: { stacks: stacks, first: first, low: allLow[r], high: allHigh[r] }
			},
			scales: {
				x: {
					type: 'linear',
					min: first - 0.544,
					max: first + stacks.length - 0.5,
					afterFit: function (s) { s.height = 70; },
					border: { color: '#000', width: 3.4 },
					grid: { drawOnChartArea: false, tickLength: 12, tickColor: '#000', tickWidth: 2.6 },
					ticks: { stepSize: 5, includeBounds: false, autoSkip: false, maxRotation: 0, color: '#000', padding: 3, font: { family: '"Liberation Sans"', size: 33 } }
				},
				y: {
					min: 0,
					max: 4.32,
					afterFit: function (s) { s.width = 131.5; },
					afterBuildTicks: function (s) { s.ticks = yTickValues.map(function (v) { return { value: v }; }); },
					border: { color: '#000', width: 3 },
					grid: { drawOnChartArea: false, tickLength: 22, tickColor: '#000', tickWidth: 3 },
					title: { display: true, text: 'bits', color: '#000', padding: { top: 12, bottom: 0 }, font: { family: '"Liberation Sans"', size: 40, weight: 'normal' } },
					ticks: { color: '#000', padding: 2, font: { family: '"Liberation Sans"', size: 33 }, callback: function (v) { return v.toFixed(1); } }
				}
			}
		}
	});
});
</script>
</body>
</html>
